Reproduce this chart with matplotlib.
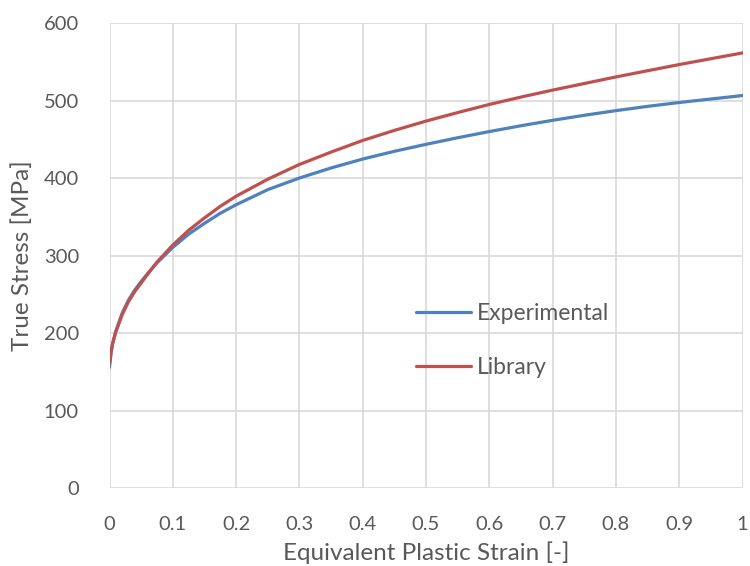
import matplotlib
matplotlib.use("Agg")
import matplotlib.pyplot as plt

plt.rcParams['font.family'] = ['Lato', 'DejaVu Sans']

# Equivalent plastic strain sample points
strain = [0.0, 0.0025, 0.005, 0.01, 0.02, 0.03, 0.04, 0.05, 0.06, 0.075,
          0.1, 0.125, 0.15, 0.175, 0.2, 0.25, 0.3, 0.35, 0.4, 0.45, 0.5,
          0.55, 0.6, 0.65, 0.7, 0.75, 0.8, 0.85, 0.9, 0.95, 1.0]

# True stress [MPa]
experimental = [156, 175, 187, 203, 226, 243, 256, 267, 277, 291,
                311, 328, 342, 355, 366, 385.5, 400.5, 413.5, 425, 435, 444,
                452.5, 460.5, 468, 475, 481.5, 487.5, 493, 498, 502.5, 507]
library = [161, 176, 187, 202, 224, 241, 254, 265, 276, 292,
           314, 333, 349, 364, 377, 399, 418, 434, 449, 462, 474,
           485, 495.5, 505, 514, 522.5, 531, 539, 547, 554.5, 562]

x_ticks = [0, 0.1, 0.2, 0.3, 0.4, 0.5, 0.6, 0.7, 0.8, 0.9, 1.0]
x_tick_labels = ["0", "0.1", "0.2", "0.3", "0.4", "0.5", "0.6", "0.7", "0.8", "0.9", "1"]
y_ticks = [0, 100, 200, 300, 400, 500, 600]

fig = plt.figure(figsize=(7.5, 5.66), dpi=100)
ax = fig.add_axes([0.146, 0.1373, 0.844, 0.8212])

grid_c = "#D9D9D9"
text_c = "#595959"

ax.plot(strain, experimental, color="#4F81BD", lw=2.3, label="Experimental",
        solid_capstyle="round", solid_joinstyle="round", zorder=3)
ax.plot(strain, library, color="#C0504D", lw=2.3, label="Library",
        solid_capstyle="round", solid_joinstyle="round", zorder=4)

ax.set_xlim(0, 1)
ax.set_ylim(0, 600)
ax.set_xticks(x_ticks)
ax.set_xticklabels(x_tick_labels)
ax.set_yticks(y_ticks)
ax.grid(True, color=grid_c, lw=1.2)
ax.set_axisbelow(True)
for s in ax.spines.values():
    s.set_visible(False)
ax.tick_params(length=0, labelsize=14.5, labelcolor=text_c)
ax.tick_params(axis='x', pad=20)
ax.tick_params(axis='y', pad=22)

ax.set_xlabel("Equivalent Plastic Strain [-]", fontsize=17.5, color=text_c, labelpad=6)
ax.set_ylabel("True Stress [MPa]", fontsize=17.5, color=text_c, labelpad=8)

leg = ax.legend(loc="upper left", bbox_to_anchor=(0.47, 0.418), frameon=False,
                fontsize=16.5, handlelength=2.4, handletextpad=0.25,
                labelspacing=1.45, borderaxespad=0)
for t in leg.get_texts():
    t.set_color(text_c)

fig.savefig("out.png", dpi=100, facecolor="white")
